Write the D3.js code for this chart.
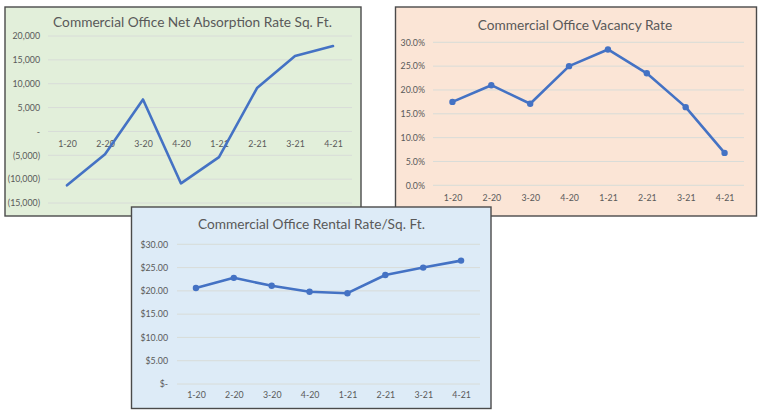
<!DOCTYPE html>
<html><head><meta charset="utf-8">
<script src="https://cdn.jsdelivr.net/npm/d3@7"></script>
<style>
html,body{margin:0;padding:0;background:#fff;}
svg{display:block;}
text{font-family:Lato,"Open Sans",sans-serif;fill:#595959;}
</style></head>
<body>
<svg id="c" width="763" height="417"></svg>
<script>
// ---- data ----
const categories = ["1-20","2-20","3-20","4-20","1-21","2-21","3-21","4-21"];
const absorption = [-11300,-4800,6700,-10900,-5400,9100,15800,17900];
const vacancy = [17.5,21.0,17.1,25.0,28.5,23.5,16.4,6.8];
const rental = [20.6,22.8,21.1,19.8,19.5,23.4,25.0,26.5];
const absorptionTicks = [-15000,-10000,-5000,0,5000,10000,15000,20000];
const vacancyTicks = [0,5,10,15,20,25,30];
const rentalTicks = [0,5,10,15,20,25,30];
const titles = ["Commercial Office Net Absorption Rate Sq. Ft.","Commercial Office Vacancy Rate","Commercial Office Rental Rate/Sq. Ft."];

const svg = d3.select("#c");
const lineColor = "#4472c4";
const tickFont = 8.8;

function panel(cfg){
  const g = svg.append("g");
  g.append("rect").attr("x",cfg.box[0]).attr("y",cfg.box[1])
    .attr("width",cfg.box[2]-cfg.box[0]).attr("height",cfg.box[3]-cfg.box[1])
    .attr("fill",cfg.bg).attr("stroke","#4a4a4a").attr("stroke-width",1.4);
  g.append("text").attr("x",cfg.titleX).attr("y",cfg.titleY)
    .attr("text-anchor","middle").attr("dominant-baseline","central")
    .attr("font-size",cfg.titleSize).text(cfg.title);
  const x = d3.scalePoint().domain(categories).range([cfg.plotX[0],cfg.plotX[1]]).padding(0.5);
  const y = d3.scaleLinear().domain(cfg.domain).range(cfg.plotY);
  g.selectAll(".grid").data(cfg.ticks).enter().append("line")
    .attr("x1",cfg.plotX[0]).attr("x2",cfg.plotX[1])
    .attr("y1",d=>y(d)).attr("y2",d=>y(d))
    .attr("stroke","#d8dcd8").attr("stroke-width",1);
  const ya = d3.axisLeft(y).tickValues(cfg.ticks).tickFormat(cfg.fmt).tickSize(0).tickPadding(cfg.yPad);
  const yg = g.append("g").attr("transform",`translate(${cfg.plotX[0]},0)`).call(ya);
  yg.select(".domain").remove();
  yg.selectAll("text").attr("font-size",tickFont).attr("fill","#595959").style("font-family","Lato,'Open Sans',sans-serif");
  const xa = d3.axisBottom(x).tickSize(0).tickPadding(cfg.xPad);
  const xg = g.append("g").attr("transform",`translate(0,${y(cfg.xAt)})`).call(xa);
  xg.select(".domain").remove();
  xg.selectAll("text").attr("font-size",tickFont).attr("fill","#595959").style("font-family","Lato,'Open Sans',sans-serif");
  const line = d3.line().x((d,i)=>x(categories[i])).y(d=>y(d));
  g.append("path").datum(cfg.values).attr("d",line).attr("fill","none")
    .attr("stroke",lineColor).attr("stroke-width",2.6).attr("stroke-linejoin","round").attr("stroke-linecap","round");
  if(cfg.markers){
    g.selectAll(".pt").data(cfg.values).enter().append("circle")
      .attr("cx",(d,i)=>x(categories[i])).attr("cy",d=>y(d)).attr("r",3.2)
      .attr("fill",lineColor);
  }
}

const fmtAbs = d => d===0 ? "-" : (d<0 ? "("+d3.format(",")(-d)+")" : d3.format(",")(d));
const fmtPct = d => d.toFixed(1)+"%";
const fmtUsd = d => d===0 ? "$-" : "$"+d.toFixed(2);

panel({box:[5,7,361,216], bg:"#e2efda", title:titles[0], titleX:192.5, titleY:21.5, titleSize:13.7,
  plotX:[48,352], plotY:[203,36], domain:[-15000,20000], ticks:absorptionTicks, fmt:fmtAbs,
  values:absorption, markers:false, xAt:0, xPad:9, yPad:8});
panel({box:[395.5,7,756.5,216], bg:"#fbe5d6", title:titles[1], titleX:575, titleY:24, titleSize:13.7,
  plotX:[433,744], plotY:[185.3,42.3], domain:[0,30], ticks:vacancyTicks, fmt:fmtPct,
  values:vacancy, markers:true, xAt:0, xPad:9, yPad:8});
panel({box:[131.5,207,491,408.5], bg:"#ddebf7", title:titles[2], titleX:311.5, titleY:223.5, titleSize:13.7,
  plotX:[177,480], plotY:[384,244.3], domain:[0,30], ticks:rentalTicks, fmt:fmtUsd,
  values:rental, markers:true, xAt:0, xPad:8, yPad:9});
</script>
</body></html>
